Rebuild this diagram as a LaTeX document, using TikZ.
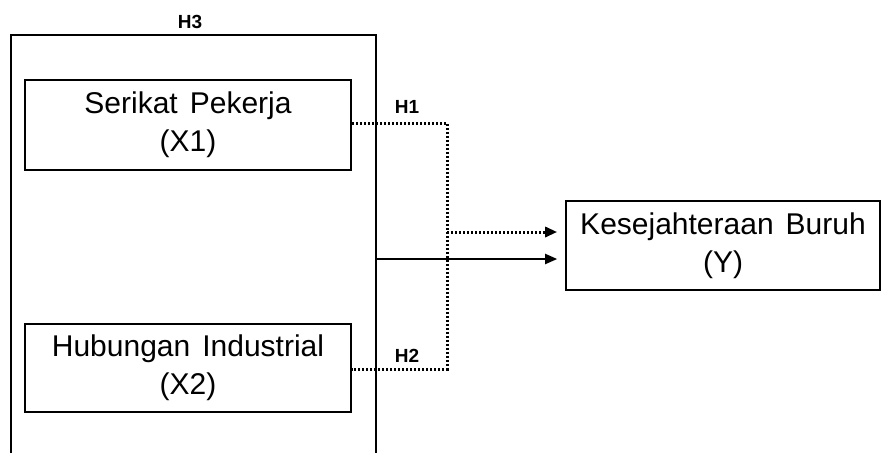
\documentclass[tikz,border=0pt]{standalone}
\usepackage{fontspec}
\setmainfont{Liberation Sans}
\usetikzlibrary{arrows.meta}
\begin{document}
\begin{tikzpicture}[x=1pt,y=-1pt,
  varbox/.style={draw,line width=1.6pt,rectangle,align=center,inner sep=0pt,
    font=\fontsize{30}{41}\selectfont},
  hlabel/.style={font=\bfseries\fontsize{19}{22}\selectfont,inner sep=0pt},
  dotline/.style={line width=3pt,dash pattern=on 2.4pt off 1.6pt},
  tip/.style={-{Triangle[length=12pt,width=10pt]}}]
\useasboundingbox (0,0) rectangle (881,453);
% outer box (H3)
\coordinate (oTL) at (11,35);
\coordinate (oTR) at (376,35);
\coordinate (oBL) at (11,453);
\coordinate (oBR) at (376,453);
\draw[line width=1.8pt] (oBL) -- (oTL) -- (oTR) -- (oBR);
\node[hlabel] (h3) at (190,22) {H3};
% variable boxes
\node[varbox,minimum width=326pt,minimum height=90pt] (x1) at (188,125) {\raisebox{-3pt}{Serikat\hspace{12pt}Pekerja}\\(X1)};
\node[varbox,minimum width=326pt,minimum height=88pt] (x2) at (188,368) {\raisebox{-3pt}{Hubungan\hspace{12pt}Industrial}\\(X2)};
\node[varbox,minimum width=314pt,minimum height=89pt] (y) at (723,245.5) {\raisebox{-3pt}{Kesejahteraan\hspace{12pt}Buruh}\\(Y)};
% junction coordinates
\coordinate (j1) at (447,123);
\coordinate (j2) at (447,369);
\coordinate (jm) at (447,232);
\coordinate (os) at (376,259);
% dotted H1/H2 paths
\draw[dotline] (x1.east |- j1) -- (j1) -- (j2) -- (x2.east |- j2);
\draw[dotline,tip,shorten >=8pt] (jm) -- (jm -| y.west);
\draw[line width=2pt,tip,shorten >=8pt] (os) -- (os -| y.west);
\node[hlabel] (h1) at (407,107) {H1};
\node[hlabel] (h2) at (407,356) {H2};
\end{tikzpicture}
\end{document}
